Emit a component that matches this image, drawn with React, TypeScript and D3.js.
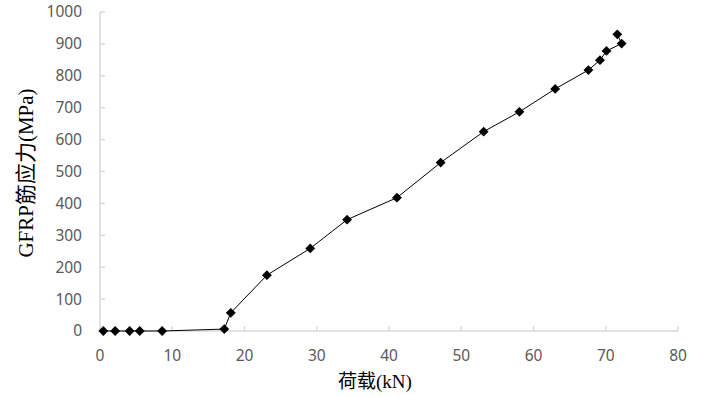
import React from "react";
import * as d3 from "d3";

const loadKN = [0.46, 2.1, 4.1, 5.5, 8.6, 17.2, 18.1, 23.1, 29.1, 34.2, 41.1, 47.15, 53.1, 58.05, 63.0, 67.6, 69.2, 70.1, 72.2, 71.6];
const stressMPa = [0, 0, 0, 0, 0, 6, 57, 175, 259, 349, 418, 528, 625, 687, 759, 818, 849, 878, 901, 930];
const xTicks = [0, 10, 20, 30, 40, 50, 60, 70, 80];
const yTicks = [0, 100, 200, 300, 400, 500, 600, 700, 800, 900, 1000];
const xTitle = "荷载(kN)";
const yTitle = "GFRP筋应力(MPa)";

export default function App() {
  const W = 706, H = 397;
  const x = d3.scaleLinear().domain([0, 80]).range([100, 678]);
  const y = d3.scaleLinear().domain([0, 1000]).range([331, 12]);
  const pts = loadKN.map((v, i) => [x(v), y(stressMPa[i])] as [number, number]);
  const line = d3.line()(pts) || "";
  const sym = d3.symbol().type(d3.symbolDiamond2).size(62)() || "";
  const axisColor = "#d9d9d9";
  const tickFont = "'Noto Sans', sans-serif";
  const titleFont = "'Liberation Serif', 'Noto Sans CJK SC', serif";
  return (
    <svg width={W} height={H} style={{ position: "absolute", left: 0, top: 0, background: "#fff" }}>
      <rect width={W} height={H} fill="#fff" />
      {/* axes */}
      <line x1={x(0)} x2={x(0)} y1={y(0)} y2={y(1000)} stroke={axisColor} strokeWidth={1.5} />
      <line x1={x(0)} x2={x(80)} y1={y(0)} y2={y(0)} stroke={axisColor} strokeWidth={1.5} />
      {yTicks.map((t) => (
        <g key={"y" + t}>
          <line x1={x(0)} x2={x(0) + 5} y1={y(t)} y2={y(t)} stroke={axisColor} strokeWidth={1.5} />
          <text x={82} y={y(t)} dy="0.35em" textAnchor="end" fontFamily={tickFont} fontSize={15.5} fill="#595959">{t}</text>
        </g>
      ))}
      {xTicks.map((t) => (
        <g key={"x" + t}>
          <line x1={x(t)} x2={x(t)} y1={y(0)} y2={y(0) - 5} stroke={axisColor} strokeWidth={1.5} />
          <text x={x(t)} y={360.5} textAnchor="middle" fontFamily={tickFont} fontSize={15.5} fill="#595959">{t}</text>
        </g>
      ))}
      {/* series */}
      <path d={line} fill="none" stroke="#000" strokeWidth={1} />
      {pts.map(([px, py], i) => (
        <path key={i} d={sym} transform={`translate(${px},${py})`} fill="#000" />
      ))}
      {/* titles */}
      <text x={375} y={388} textAnchor="middle" fontFamily={titleFont} fontSize={19} fill="#000">{xTitle}</text>
      <text transform={`translate(33,${173}) rotate(-90)`} textAnchor="middle" fontFamily={titleFont} fontSize={21} fill="#000">{yTitle}</text>
    </svg>
  );
}
